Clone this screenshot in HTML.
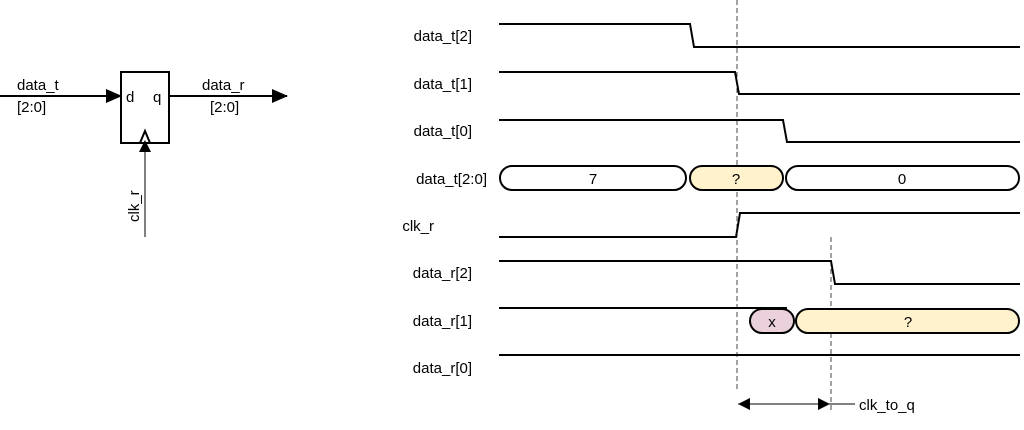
<!DOCTYPE html>
<html><head><style>body{margin:0;background:#fff}</style></head><body>
<svg width="1024" height="425" xmlns="http://www.w3.org/2000/svg" font-family="'Liberation Sans', 'DejaVu Sans', sans-serif" font-size="15" fill="#000">
<defs>
<marker id="b" markerWidth="16" markerHeight="14" refX="15" refY="7" orient="auto" markerUnits="userSpaceOnUse"><path d="M0,0 L16,7 L0,14z" fill="#000"/></marker></defs>
<!-- flip-flop -->
<rect x="121" y="72" width="48" height="71" fill="#fff" stroke="#000" stroke-width="2"/>
<line x1="0" y1="96" x2="121" y2="96" stroke="#000" stroke-width="2" marker-end="url(#b)"/>
<line x1="169" y1="96" x2="287" y2="96" stroke="#000" stroke-width="2" marker-end="url(#b)"/>
<line x1="145" y1="237" x2="145" y2="150" stroke="#000" stroke-width="1"/>
<path d="M139,152 L145,140 L151,152z" fill="#000"/>
<path d="M140,143 L145,131 L150,143" fill="none" stroke="#000" stroke-width="2"/>
<text x="126" y="102">d</text><text x="153" y="102">q</text>
<text x="17" y="90">data_t</text><text x="17" y="112">[2:0]</text>
<text x="202" y="90">data_r</text><text x="210" y="112">[2:0]</text>
<text transform="translate(139,222) rotate(-90)">clk_r</text>
<!-- labels -->
<g text-anchor="end">
<text x="472" y="41">data_t[2]</text>
<text x="472" y="89">data_t[1]</text>
<text x="472" y="136">data_t[0]</text>
<text x="487" y="184">data_t[2:0]</text>
<text x="434" y="231">clk_r</text>
<text x="472" y="278">data_r[2]</text>
<text x="472" y="326">data_r[1]</text>
<text x="472" y="373">data_r[0]</text>
</g>
<!-- dashed -->
<line x1="737" y1="0" x2="737" y2="392" stroke="#444" stroke-dasharray="5,3"/>
<line x1="831" y1="237" x2="831" y2="412" stroke="#444" stroke-dasharray="5,3"/>
<g fill="none" stroke="#000" stroke-width="2">
<path d="M499,24 H690 L694,47 H1020"/>
<path d="M499,72 H735 L739,94 H1020"/>
<path d="M499,120 H783 L787,142 H1020"/>
<path d="M499,237 H736 L740,213 H1020"/>
<path d="M499,261 H831 L835,284 H1020"/>
<path d="M499,308 H787"/>
<path d="M499,355 H1020"/>
</g>
<g stroke="#000" stroke-width="2">
<rect x="500" y="166" width="186" height="24" rx="12" fill="#fff"/>
<rect x="690" y="166" width="93" height="24" rx="12" fill="#fff2cc"/>
<rect x="786" y="166" width="233" height="24" rx="12" fill="#fff"/>
<rect x="750" y="309" width="44" height="24" rx="12" fill="#ead1dc"/>
<rect x="796" y="309" width="223" height="24" rx="12" fill="#fff2cc"/>
</g>
<g text-anchor="middle">
<text x="593" y="184">7</text><text x="736" y="184">?</text><text x="902" y="184">0</text>
<text x="772" y="327">x</text><text x="908" y="327">?</text>
</g>
<line x1="738" y1="404" x2="855" y2="404" stroke="#000" stroke-width="1"/>
<path d="M738,404 l12,-6 v12z M830,404 l-12,-6 v12z" fill="#000"/>
<text x="859" y="410">clk_to_q</text>
</svg>
</body></html>
